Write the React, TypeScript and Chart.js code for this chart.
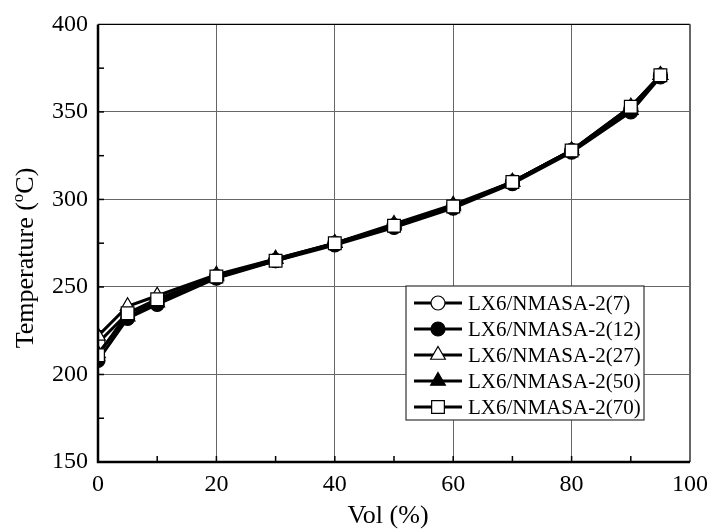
import React, { useEffect, useRef } from "react";
import { Chart, registerables } from "chart.js";

Chart.register(...registerables);

const vols = [0, 5, 10, 20, 30, 40, 50, 60, 70, 80, 90, 95];
const s7 = [218, 235, 242, 256, 265, 275, 285, 296, 310, 328, 352, 371];
const s12 = [208, 232, 240, 255, 265, 274, 284, 295, 309, 327, 350, 370];
const s27 = [222, 239, 245, 257, 266, 275, 286, 297, 310, 328, 353, 371];
const s50 = [212, 233, 241, 256, 266, 275, 285, 296, 310, 328, 351, 371];
const s70 = [211, 235, 243, 256, 265, 275, 285, 296, 310, 328, 353, 371];

const seriesLabels = [
  "LX6/NMASA-2(7)",
  "LX6/NMASA-2(12)",
  "LX6/NMASA-2(27)",
  "LX6/NMASA-2(50)",
  "LX6/NMASA-2(70)",
];
const seriesValues = [s7, s12, s27, s50, s70];
const seriesShapes = ["circle", "circle", "triangle", "triangle", "rect"];
const seriesFilled = [false, true, false, true, false];
const seriesRadius = [7, 7, 8.5, 8.5, 9];

const xTickLabels = ["0", "20", "40", "60", "80", "100"];
const yTickLabels = ["150", "200", "250", "300", "350", "400"];

const FONT = "'Liberation Serif', 'Times New Roman', serif";

export default function App() {
  const ref = useRef<HTMLCanvasElement | null>(null);

  useEffect(() => {
    document.body.style.margin = "0";
    const canvas = ref.current;
    if (!canvas) return;

    const datasets = seriesValues.map((vals, i) => ({
      label: seriesLabels[i],
      data: vols.map((v, j) => ({ x: v, y: vals[j] })),
      borderColor: "#000",
      borderWidth: 3,
      pointStyle: seriesShapes[i],
      pointRadius: seriesRadius[i],
      pointBackgroundColor: seriesFilled[i] ? "#000" : "#fff",
      pointBorderColor: "#000",
      pointBorderWidth: 1.2,
      fill: false,
      tension: 0,
      order: 4 - i,
    }));

    function drawMarker(ctx: any, style: string, r: number, x: number, y: number) {
      ctx.beginPath();
      if (style === "circle") {
        ctx.arc(x, y, r, 0, Math.PI * 2);
      } else if (style === "triangle") {
        ctx.moveTo(x, y - r);
        ctx.lineTo(x + r * Math.sin(Math.PI / 3), y + r * 0.5);
        ctx.lineTo(x - r * Math.sin(Math.PI / 3), y + r * 0.5);
        ctx.closePath();
      } else {
        const s = Math.SQRT1_2 * r;
        ctx.rect(x - s, y - s, 2 * s, 2 * s);
      }
      ctx.fill();
      ctx.stroke();
    }

    const framePlugin = {
      id: "frame",
      afterDraw(chart: any) {
        const ctx = chart.ctx;
        const a = chart.chartArea;
        const xs = chart.scales.x;
        const ys = chart.scales.y;
        ctx.save();
        // minor ticks
        ctx.strokeStyle = "#000";
        ctx.lineWidth = 1.5;
        for (let v = 10; v < 100; v += 10) {
          const px = xs.getPixelForValue(v);
          ctx.beginPath();
          ctx.moveTo(px, a.bottom);
          ctx.lineTo(px, a.bottom - 6);
          ctx.stroke();
        }
        for (let v = 175; v < 400; v += 25) {
          const py = ys.getPixelForValue(v);
          ctx.beginPath();
          ctx.moveTo(a.left, py);
          ctx.lineTo(a.left + 6, py);
          ctx.stroke();
        }
        // frame
        ctx.lineWidth = 1.2;
        ctx.strokeStyle = "#000";
        ctx.beginPath();
        ctx.moveTo(a.left, a.top);
        ctx.lineTo(a.right, a.top);
        ctx.stroke();
        ctx.lineWidth = 2;
        ctx.strokeStyle = "#666";
        ctx.beginPath();
        ctx.moveTo(a.right, a.top);
        ctx.lineTo(a.right, a.bottom);
        ctx.stroke();
        ctx.strokeStyle = "#000";
        ctx.lineWidth = 2.5;
        ctx.beginPath();
        ctx.moveTo(a.left, a.top);
        ctx.lineTo(a.left, a.bottom);
        ctx.lineTo(a.right, a.bottom);
        ctx.stroke();

        // legend
        const lx = 406, ly = 286, lw = 238, lh = 134;
        ctx.fillStyle = "#fff";
        ctx.fillRect(lx, ly, lw, lh);
        ctx.strokeStyle = "#333";
        ctx.lineWidth = 1.2;
        ctx.strokeRect(lx, ly, lw, lh);
        ctx.font = `21px ${FONT}`;
        ctx.textBaseline = "middle";
        ctx.textAlign = "left";
        chart.data.datasets.forEach((ds: any, i: number) => {
          const y = 303 + i * 26;
          ctx.strokeStyle = "#000";
          ctx.lineWidth = 3;
          ctx.beginPath();
          ctx.moveTo(414, y);
          ctx.lineTo(462, y);
          ctx.stroke();
          ctx.fillStyle = ds.pointBackgroundColor;
          ctx.strokeStyle = "#000";
          ctx.lineWidth = 1.2;
          drawMarker(ctx, ds.pointStyle, ds.pointRadius, 438, y);
          ctx.fillStyle = "#000";
          ctx.fillText(ds.label, 468, y + 1);
        });

        // x title
        ctx.fillStyle = "#000";
        ctx.font = `26px ${FONT}`;
        ctx.textAlign = "center";
        ctx.textBaseline = "middle";
        ctx.fillText("Vol (%)", 388, 516);

        // y title with superscript
        ctx.translate(24, 258);
        ctx.rotate(-Math.PI / 2);
        const p1 = "Temperature (";
        const p2 = "o";
        const p3 = "C)";
        ctx.font = `26px ${FONT}`;
        const w1 = ctx.measureText(p1).width;
        const w3 = ctx.measureText(p3).width;
        ctx.font = `17px ${FONT}`;
        const w2 = ctx.measureText(p2).width;
        const total = w1 + w2 + w3;
        let cx = -total / 2;
        ctx.textAlign = "left";
        ctx.textBaseline = "alphabetic";
        const base = 9;
        ctx.font = `26px ${FONT}`;
        ctx.fillText(p1, cx, base);
        cx += w1;
        ctx.font = `17px ${FONT}`;
        ctx.fillText(p2, cx, base - 10);
        cx += w2;
        ctx.font = `26px ${FONT}`;
        ctx.fillText(p3, cx, base);
        ctx.restore();
      },
    };

    const chart = new Chart(canvas, {
      type: "line",
      data: { datasets } as any,
      plugins: [framePlugin],
      options: {
        responsive: false,
        animation: false,
        layout: { padding: { top: 24, right: 23, left: 0, bottom: 0 } },
        plugins: { legend: { display: false }, tooltip: { enabled: false } },
        scales: {
          x: {
            type: "linear",
            min: 0,
            max: 100,
            afterFit: (s: any) => {
              s.height = 69;
            },
            afterBuildTicks: (s: any) => {
              s.ticks = xTickLabels.map((t) => ({ value: Number(t) }));
            },
            ticks: {
              color: "#000",
              font: { family: FONT, size: 24 },
              padding: 8,
              maxRotation: 0,
              callback: (v: any) => String(v),
            },
            grid: { color: "#666", lineWidth: 1, drawTicks: false },
            border: { display: false },
          },
          y: {
            type: "linear",
            min: 150,
            max: 400,
            afterFit: (s: any) => {
              s.width = 98;
            },
            afterBuildTicks: (s: any) => {
              s.ticks = yTickLabels.map((t) => ({ value: Number(t) }));
            },
            ticks: {
              color: "#000",
              font: { family: FONT, size: 24 },
              padding: 10,
              callback: (v: any) => String(v),
            },
            grid: { color: "#666", lineWidth: 1, drawTicks: false },
            border: { display: false },
          },
        },
      } as any,
    });

    return () => chart.destroy();
  }, []);

  return (
    <div style={{ width: 716, height: 531, background: "#fff" }}>
      <canvas ref={ref} width={716} height={531} style={{ display: "block" }} />
    </div>
  );
}
